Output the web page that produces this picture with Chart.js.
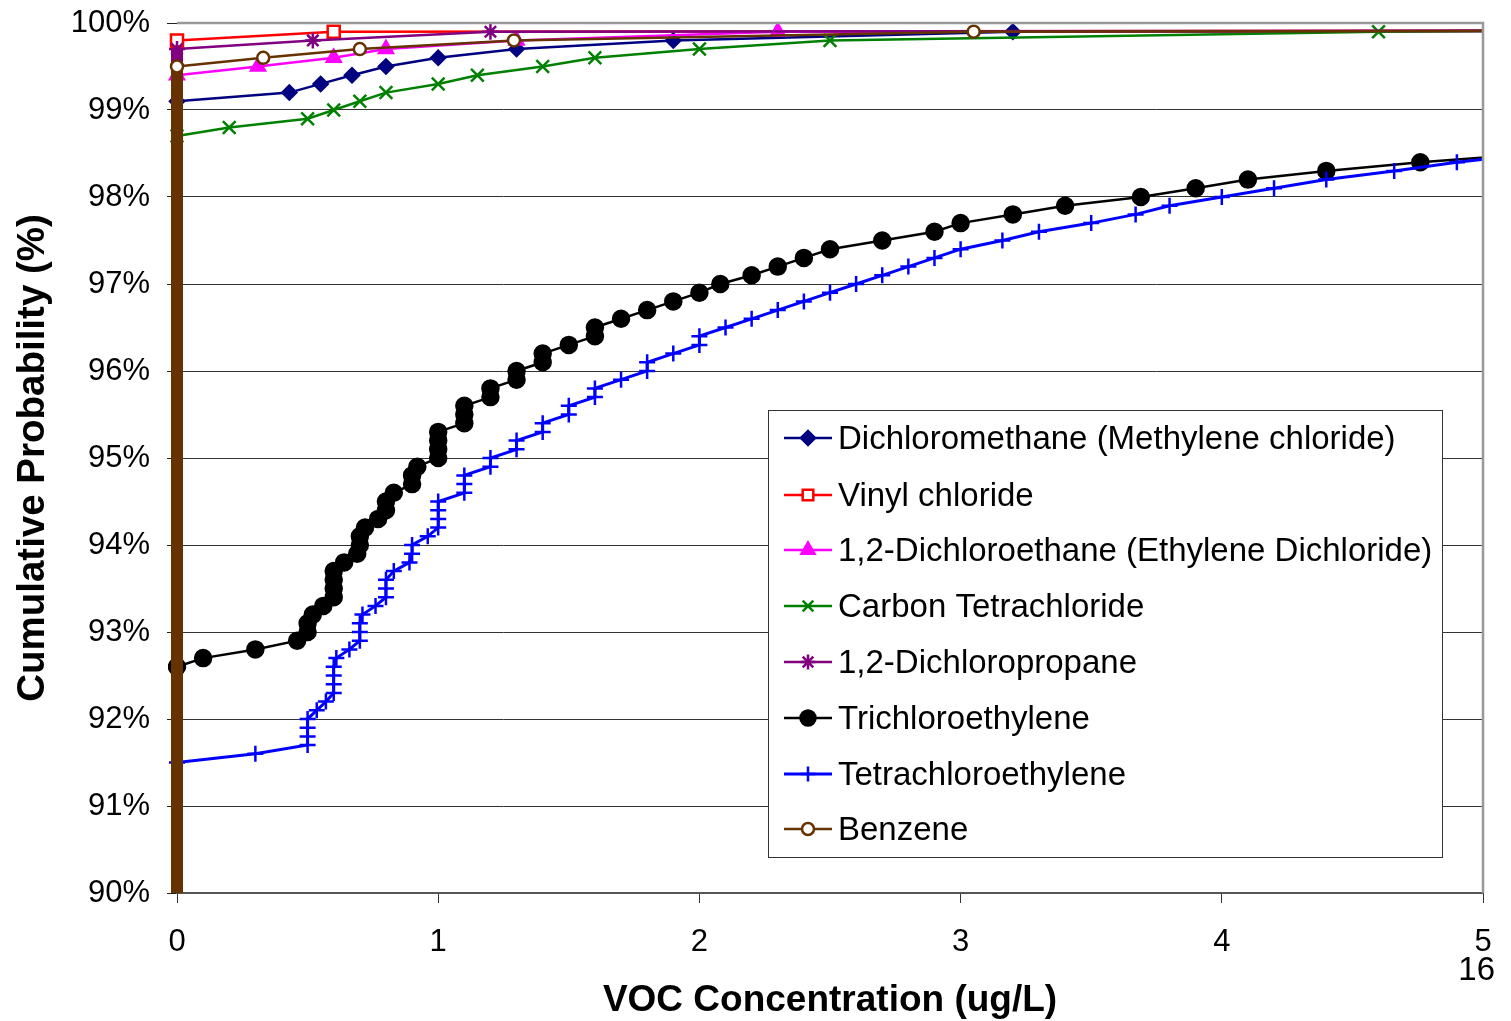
<!DOCTYPE html>
<html>
<head>
<meta charset="utf-8">
<script src="https://cdn.jsdelivr.net/npm/chart.js@4.4.1/dist/chart.umd.min.js"></script>
<style>
  body { margin: 0; background: #fff; }
  #wrap { width: 1511px; height: 1021px; }
</style>
</head>
<body>
<div id="wrap"><canvas id="vocChart" width="1511" height="1021"></canvas></div>
<script>
// series names (legend order)
const seriesNames = [
  'Dichloromethane (Methylene chloride)',
  'Vinyl chloride',
  '1,2-Dichloroethane (Ethylene Dichloride)',
  'Carbon Tetrachloride',
  '1,2-Dichloropropane',
  'Trichloroethylene',
  'Tetrachloroethylene',
  'Benzene'
];

// concentration (ug/L) and cumulative probability (%)
const dcmX = [0, 0, 0.43, 0.55, 0.67, 0.8, 1.0, 1.3, 1.9, 3.2, 5.2];
const dcmY = [90, 99.1, 99.2, 99.3, 99.4, 99.5, 99.6, 99.7, 99.8, 99.9, 99.91];

const vinylX = [0, 0, 0.6, 5.2];
const vinylY = [90, 99.8, 99.9, 99.91];

const dceX = [0, 0, 0.31, 0.6, 0.8, 1.3, 2.3, 5.2];
const dceY = [90, 99.4, 99.5, 99.6, 99.7, 99.8, 99.9, 99.91];

const carbonX = [0, 0, 0.2, 0.5, 0.6, 0.7, 0.8, 1.0, 1.15, 1.4, 1.6, 2.0, 2.5, 4.6, 5.2];
const carbonY = [90, 98.7, 98.8, 98.9, 99.0, 99.1, 99.2, 99.3, 99.4, 99.5, 99.6, 99.7, 99.8, 99.9, 99.91];

const dcpX = [0, 0, 0.52, 1.2, 5.2];
const dcpY = [90, 99.7, 99.8, 99.9, 99.91];

const tceX = [0, 0, 0.1, 0.3, 0.46, 0.5, 0.5, 0.52, 0.56, 0.6, 0.6, 0.6, 0.6, 0.64, 0.69, 0.7, 0.7,
  0.72, 0.77, 0.8, 0.8, 0.83, 0.9, 0.9, 0.92, 1.0, 1.0, 1.0, 1.0, 1.1, 1.1, 1.1, 1.2, 1.2, 1.3, 1.3,
  1.4, 1.4, 1.5, 1.6, 1.6, 1.7, 1.8, 1.9, 2.0, 2.08, 2.2, 2.3, 2.4, 2.5, 2.7, 2.9, 3.0, 3.2, 3.4,
  3.69, 3.9, 4.1, 4.4, 4.76, 5.2];
const tceY = [90, 92.6, 92.7, 92.8, 92.9, 93.0, 93.1, 93.2, 93.3, 93.4, 93.5, 93.6, 93.7, 93.8, 93.9,
  94.0, 94.1, 94.2, 94.3, 94.4, 94.5, 94.6, 94.7, 94.8, 94.9, 95.0, 95.1, 95.2, 95.3, 95.4, 95.5,
  95.6, 95.7, 95.8, 95.9, 96.0, 96.1, 96.2, 96.3, 96.4, 96.5, 96.6, 96.7, 96.8, 96.9, 97.0, 97.1,
  97.2, 97.3, 97.4, 97.5, 97.6, 97.7, 97.8, 97.9, 98.0, 98.1, 98.2, 98.3, 98.4, 98.5];

const pceX = [0, 0, 0.3, 0.5, 0.5, 0.5, 0.5, 0.535, 0.57, 0.6, 0.6, 0.6, 0.6, 0.61, 0.66, 0.7, 0.7,
  0.7, 0.71, 0.76, 0.8, 0.8, 0.8, 0.83, 0.89, 0.9, 0.9, 0.96, 1.0, 1.0, 1.0, 1.0, 1.1, 1.1, 1.1,
  1.2, 1.2, 1.3, 1.3, 1.4, 1.4, 1.5, 1.5, 1.6, 1.6, 1.7, 1.8, 1.8, 1.9, 2.0, 2.0, 2.1, 2.2, 2.3,
  2.4, 2.5, 2.6, 2.7, 2.8, 2.9, 3.0, 3.16, 3.3, 3.5, 3.67, 3.8, 4.0, 4.2, 4.4, 4.66, 4.9, 5.2];
const pceY = [90, 91.5, 91.6, 91.7, 91.8, 91.9, 92.0, 92.1, 92.2, 92.3, 92.4, 92.5, 92.6, 92.7, 92.8,
  92.9, 93.0, 93.1, 93.2, 93.3, 93.4, 93.5, 93.6, 93.7, 93.8, 93.9, 94.0, 94.1, 94.2, 94.3, 94.4,
  94.5, 94.6, 94.7, 94.8, 94.9, 95.0, 95.1, 95.2, 95.3, 95.4, 95.5, 95.6, 95.7, 95.8, 95.9, 96.0,
  96.1, 96.2, 96.3, 96.4, 96.5, 96.6, 96.7, 96.8, 96.9, 97.0, 97.1, 97.2, 97.3, 97.4, 97.5, 97.6,
  97.7, 97.8, 97.9, 98.0, 98.1, 98.2, 98.3, 98.4, 98.5];

const benzeneX = [0, 0, 0.33, 0.7, 1.29, 3.05, 5.2];
const benzeneY = [90, 99.5, 99.6, 99.7, 99.8, 99.9, 99.91];

const xTicks = [0, 1, 2, 3, 4, 5];
const yTicks = [90, 91, 92, 93, 94, 95, 96, 97, 98, 99, 100];

const FONT = '"Liberation Sans", Arial, sans-serif';

// looks for each series
const styles = [
  { color: '#000080', fill: '#000080', point: 'rectRot', r: 7, w: 2.5 },
  { color: '#FF0000', fill: '#FFFFFF', point: 'rect', r: 8.5, w: 2.5 },
  { color: '#FF00FF', fill: '#FF00FF', point: 'triangle', r: 8, w: 2.5 },
  { color: '#008000', fill: '#008000', point: 'crossRot', r: 9, w: 2.5 },
  { color: '#800080', fill: '#800080', point: 'star', r: 8, w: 2.5 },
  { color: '#000000', fill: '#000000', point: 'circle', r: 8, w: 2.5 },
  { color: '#0000FF', fill: '#0000FF', point: 'cross', r: 8, w: 3 },
  { color: '#663300', fill: '#FFFFFF', point: 'circle', r: 6, w: 2.5 }
];

const allX = [dcmX, vinylX, dceX, carbonX, dcpX, tceX, pceX, benzeneX];
const allY = [dcmY, vinylY, dceY, carbonY, dcpY, tceY, pceY, benzeneY];

function toPoints(xs, ys) {
  return xs.map((x, i) => ({ x: x, y: ys[i] }));
}

const datasets = seriesNames.map((name, i) => {
  const s = styles[i];
  return {
    label: name,
    data: toPoints(allX[i], allY[i]),
    borderColor: s.color,
    backgroundColor: s.fill,
    borderWidth: s.w,
    pointStyle: s.point,
    pointRadius: c => (c.raw && c.raw.y === 90) ? 0 : s.r,
    pointBorderWidth: 2.5,
    pointBorderColor: s.color,
    pointBackgroundColor: s.fill,
    tension: 0,
    order: seriesNames.length - 1 - i, // last series drawn on top, like Excel
    clip: { left: 9, top: 10, right: 1, bottom: 8 },
    segment: {
      // the pile of non-detects stacked at zero
      borderWidth: ctx => (ctx.p0.parsed.x === 0 && ctx.p1.parsed.x === 0) ? 12 : undefined
    }
  };
});

// legend box drawn inside the plot, plus frame and page number
const extras = {
  id: 'extras',
  afterDatasetsDraw(chart) {
    const ctx = chart.ctx;
    const a = chart.chartArea;
    ctx.save();
    ctx.strokeStyle = '#999999';
    ctx.lineWidth = 2.5;
    ctx.beginPath();
    ctx.moveTo(a.left, a.top);
    ctx.lineTo(a.right, a.top);
    ctx.lineTo(a.right, a.bottom);
    ctx.stroke();
    ctx.restore();
  },
  afterDraw(chart) {
    const ctx = chart.ctx;
    ctx.save();
    ctx.fillStyle = '#FFFFFF';
    ctx.fillRect(768, 410, 674, 447);
    ctx.strokeStyle = '#333333';
    ctx.lineWidth = 1;
    ctx.strokeRect(768.5, 410.5, 674, 447);

    const rowY = [438, 495, 550, 606, 662, 718, 774, 829];
    seriesNames.forEach((name, i) => {
      const s = styles[i];
      const y = rowY[i];
      ctx.strokeStyle = s.color;
      ctx.lineWidth = s.w;
      ctx.beginPath();
      ctx.moveTo(784, y);
      ctx.lineTo(832, y);
      ctx.stroke();
      ctx.fillStyle = s.fill;
      ctx.strokeStyle = s.color;
      ctx.lineWidth = 2.5;
      Chart.helpers.drawPoint(ctx, { pointStyle: s.point, radius: Math.min(s.r, 7.5), rotation: 0, borderWidth: 2.5 }, 808, y);
      ctx.fillStyle = '#000000';
      ctx.font = '33px ' + FONT;
      ctx.textAlign = 'left';
      ctx.textBaseline = 'alphabetic';
      ctx.fillText(name, 838, y + 11);
    });

    ctx.fillStyle = '#000000';
    ctx.font = '33px ' + FONT;
    ctx.textAlign = 'right';
    ctx.fillText('16', 1495, 980);
    ctx.restore();
  }
};

const ctx = document.getElementById('vocChart').getContext('2d');
new Chart(ctx, {
  type: 'line',
  data: { datasets: datasets },
  options: {
    responsive: false,
    animation: false,
    devicePixelRatio: 1,
    layout: { padding: { top: 23, right: 28, left: 0, bottom: 0 } },
    plugins: {
      legend: { display: false },
      tooltip: { enabled: false }
    },
    scales: {
      x: {
        type: 'linear',
        min: 0,
        max: 5,
        afterBuildTicks: s => { s.ticks = xTicks.map(v => ({ value: v })); },
        afterFit: s => { s.height = 128; s.paddingLeft = 0; s.paddingRight = 0; },
        ticks: { color: '#000', font: { family: FONT, size: 31 }, padding: 21, maxRotation: 0 },
        grid: { drawOnChartArea: false, tickLength: 10, tickColor: '#333', color: '#333' },
        border: { color: '#555', width: 2 },
        title: {
          display: true,
          text: 'VOC Concentration (ug/L)',
          color: '#000',
          font: { family: FONT, size: 37, weight: 'bold', lineHeight: 1.1 },
          padding: { top: 0, bottom: 0 }
        }
      },
      y: {
        type: 'linear',
        min: 90,
        max: 100,
        afterBuildTicks: s => { s.ticks = yTicks.map(v => ({ value: v })); },
        afterFit: s => { s.width = 177; s.paddingTop = 0; s.paddingBottom = 0; },
        ticks: { color: '#000', font: { family: FONT, size: 31 }, padding: 17, callback: v => v + '%' },
        grid: { color: '#333', lineWidth: 1, tickLength: 10, tickColor: '#222' },
        border: { display: false },
        title: {
          display: true,
          text: 'Cumulative Probability (%)',
          color: '#000',
          font: { family: FONT, size: 38.5, weight: 'bold', lineHeight: 1.1 },
          padding: { top: 12, bottom: 0 }
        }
      }
    }
  },
  plugins: [extras]
});
</script>
</body>
</html>
